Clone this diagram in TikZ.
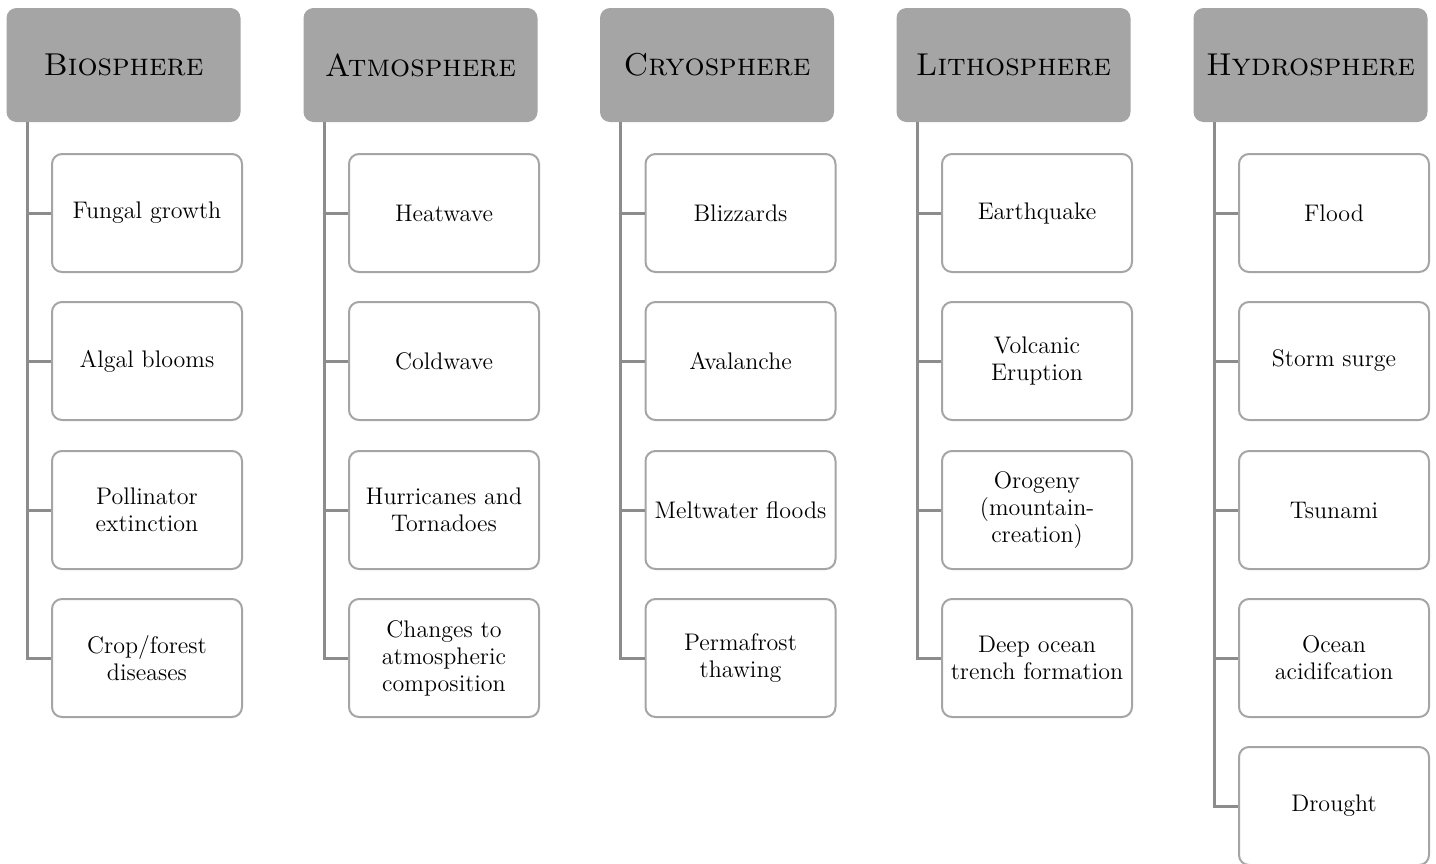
\documentclass[tikz,border=0pt]{standalone}
\usepackage{tikz}
\usetikzlibrary{positioning}
\definecolor{spheregray}{HTML}{A5A5A5}
\definecolor{linegray}{HTML}{8C8C8C}

\begin{document}
\begin{tikzpicture}[x=0.5pt,y=-0.5pt]
    \tikzset{sphere/.style={fill=spheregray, rounded corners=5pt, minimum width=117pt, minimum height=57pt, font=\fontsize{15.8}{18}\selectfont\scshape},
             hazard/.style={draw=spheregray, line width=1pt, fill=white, rounded corners=5pt, minimum width=95pt, minimum height=59pt, align=center, inner sep=2pt, font=\fontsize{12}{13.5}\selectfont},
             branch/.style={draw=linegray, line width=1.5pt}}
    \useasboundingbox (0,0) rectangle (1436,863);

    % headers
    \node[sphere] (bio) at (123.5,65) {Biosphere};
    \node[sphere] (atm) at (420.5,65) {Atmosphere};
    \node[sphere] (cry) at (717,65) {Cryosphere};
    \node[sphere] (lit) at (1013.5,65) {Lithosphere};
    \node[sphere] (hyd) at (1310.5,65) {Hydrosphere};

    % trunk points
    \coordinate (bio-t) at ([xshift=10.5pt]bio.south west);
    \coordinate (atm-t) at ([xshift=10.5pt]atm.south west);
    \coordinate (cry-t) at ([xshift=10.5pt]cry.south west);
    \coordinate (lit-t) at ([xshift=10.5pt]lit.south west);
    \coordinate (hyd-t) at ([xshift=10.5pt]hyd.south west);

    % biosphere
    \node[hazard] (bio1) at (147,213) {Fungal growth};
    \node[hazard] (bio2) at (147,361) {Algal blooms};
    \node[hazard] (bio3) at (147,510) {Pollinator\\ extinction};
    \node[hazard] (bio4) at (147,658) {Crop/forest\\ diseases};

    % atmosphere
    \node[hazard] (atm1) at (444,213) {Heatwave};
    \node[hazard] (atm2) at (444,361) {Coldwave};
    \node[hazard] (atm3) at (444,510) {Hurricanes and\\ Tornadoes};
    \node[hazard] (atm4) at (444,658) {Changes to\\ atmospheric\\ composition};

    % cryosphere
    \node[hazard] (cry1) at (740.5,213) {Blizzards};
    \node[hazard] (cry2) at (740.5,361) {Avalanche};
    \node[hazard] (cry3) at (740.5,510) {Meltwater floods};
    \node[hazard] (cry4) at (740.5,658) {Permafrost\\ thawing};

    % lithosphere
    \node[hazard] (lit1) at (1037,213) {Earthquake};
    \node[hazard] (lit2) at (1037,361) {Volcanic\\ Eruption};
    \node[hazard] (lit3) at (1037,510) {Orogeny\\ (mountain-\\ creation)};
    \node[hazard] (lit4) at (1037,658) {Deep ocean\\ trench formation};

    % hydrosphere
    \node[hazard] (hyd1) at (1334,213) {Flood};
    \node[hazard] (hyd2) at (1334,361) {Storm surge};
    \node[hazard] (hyd3) at (1334,510) {Tsunami};
    \node[hazard] (hyd4) at (1334,658) {Ocean\\ acidifcation};
    \node[hazard] (hyd5) at (1334,806) {Drought};

    \foreach \s in {bio,atm,cry,lit}
        \foreach \i in {1,...,4}
            \draw[branch] (\s-t) |- (\s\i.west);
    \foreach \i in {1,...,5}
        \draw[branch] (hyd-t) |- (hyd\i.west);
\end{tikzpicture}
\end{document}
